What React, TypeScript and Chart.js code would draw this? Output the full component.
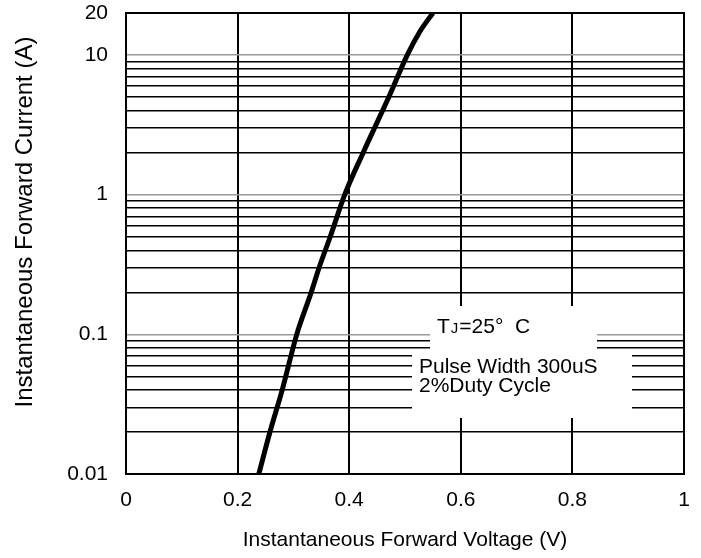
import { useEffect, useRef } from "react";
import { Chart, registerables } from "chart.js";

Chart.register(...registerables);

// Forward characteristic
const voltage = [0.238, 0.258, 0.28, 0.306, 0.332, 0.346, 0.366, 0.392, 0.425, 0.471, 0.504, 0.527, 0.55];
const current = [0.01, 0.02, 0.04, 0.1, 0.2, 0.3, 0.5, 1, 2, 5, 10, 14.8, 20];

const xTicks = [0, 0.2, 0.4, 0.6, 0.8, 1];
const yTickLabels = [0.01, 0.1, 1, 10, 20];
const yDecades = [0.01, 0.1, 1, 10];
const yMin = 0.01;
const yMax = 20;

const xTitle = "Instantaneous Forward Voltage (V)";
const yTitle = "Instantaneous Forward Current (A)";
const noteT = "T";
const noteJ = "J";
const noteTemp = "=25°  C";
const noteLines = ["Pulse Width 300uS", "2%Duty Cycle"];

const FONT = '"Liberation Sans", Arial, Helvetica, sans-serif';

function isDecade(v: number) {
  const l = Math.log10(v);
  return Math.abs(l - Math.round(l)) < 1e-6;
}

const overlay = {
  id: "overlay",
  beforeDatasetsDraw(chart: any) {
    const { ctx, chartArea: a } = chart;
    ctx.save();
    ctx.fillStyle = "#ffffff";
    ctx.fillRect(a.left + 304, a.top + 293, 167, 47);
    ctx.fillRect(a.left + 286, a.top + 339, 220, 66);
    ctx.fillStyle = "#000000";
    ctx.textBaseline = "alphabetic";
    ctx.textAlign = "left";
    ctx.font = `21px ${FONT}`;
    let x = a.left + 311;
    const y0 = a.top + 320;
    ctx.fillText(noteT, x, y0);
    x += ctx.measureText(noteT).width + 1;
    ctx.font = `15px ${FONT}`;
    ctx.fillText(noteJ, x, y0);
    x += ctx.measureText(noteJ).width + 1;
    ctx.font = `21px ${FONT}`;
    ctx.fillText(noteTemp, x, y0);
    ctx.fillText(noteLines[0], a.left + 293, a.top + 360);
    ctx.fillText(noteLines[1], a.left + 293, a.top + 379);
    ctx.restore();
  },
  afterDraw(chart: any) {
    const { ctx, chartArea: a } = chart;
    ctx.save();
    ctx.strokeStyle = "#000000";
    ctx.lineWidth = 2;
    ctx.strokeRect(a.left, a.top, a.right - a.left, a.bottom - a.top);
    ctx.translate(25, 222);
    ctx.rotate(-Math.PI / 2);
    ctx.fillStyle = "#000000";
    ctx.font = `24px ${FONT}`;
    ctx.textAlign = "center";
    ctx.textBaseline = "middle";
    ctx.fillText(yTitle, 0, 0);
    ctx.restore();
  },
};

export default function App() {
  const ref = useRef<HTMLCanvasElement | null>(null);

  useEffect(() => {
    if (!ref.current) return;
    const chart = new Chart(ref.current, {
      type: "line",
      data: {
        datasets: [
          {
            data: voltage.map((v, i) => ({ x: v, y: current[i] })),
            borderColor: "#000000",
            borderWidth: 5,
            pointRadius: 0,
            fill: false,
            cubicInterpolationMode: "monotone",
          },
        ],
      },
      options: {
        animation: false,
        responsive: false,
        maintainAspectRatio: false,
        layout: { padding: { top: 13, right: 17, left: 0, bottom: 0 } },
        plugins: { legend: { display: false }, tooltip: { enabled: false } },
        scales: {
          x: {
            type: "linear",
            min: 0,
            max: 1,
            afterBuildTicks: (s: any) => {
              s.ticks = xTicks.map((v) => ({ value: v }));
            },
            afterFit: (s: any) => {
              s.height = 84;
              s.paddingLeft = 0;
              s.paddingRight = 0;
            },
            ticks: {
              color: "#000000",
              font: { family: FONT, size: 21 },
              padding: 14,
              autoSkip: false,
              maxRotation: 0,
              callback: (v: any) => String(Number(v)),
            },
            grid: { color: "#000000", lineWidth: 2, drawTicks: false },
            border: { display: false },
            title: {
              display: true,
              text: xTitle,
              color: "#000000",
              font: { family: FONT, size: 21 },
              padding: { top: 0, bottom: 5 },
            },
          },
          y: {
            type: "logarithmic",
            min: yMin,
            max: yMax,
            afterBuildTicks: (s: any) => {
              const t: { value: number }[] = [];
              for (const d of yDecades) {
                for (let m = 1; m <= 9; m++) {
                  const v = parseFloat((d * m).toPrecision(6));
                  if (v < yMax) t.push({ value: v });
                }
              }
              t.push({ value: yMax });
              s.ticks = t;
            },
            afterFit: (s: any) => {
              s.width = 126;
              s.paddingTop = 0;
              s.paddingBottom = 0;
            },
            ticks: {
              color: "#000000",
              font: { family: FONT, size: 21 },
              padding: 18,
              autoSkip: false,
              callback: (v: any) => {
                const n = Number(v);
                return yTickLabels.some((l) => Math.abs(l - n) / l < 1e-6) ? String(n) : "";
              },
            },
            grid: {
              drawTicks: false,
              color: (c: any) => {
                const v = c.tick ? c.tick.value : 0;
                return isDecade(v) && v > yMin * 1.01 ? "#999999" : "#000000";
              },
              lineWidth: 1.5,
            },
            border: { display: false },
          },
        },
      },
      plugins: [overlay],
    } as any);
    return () => chart.destroy();
  }, []);

  return (
    <div style={{ position: "absolute", left: 0, top: 0, width: 701, height: 558, background: "#fff" }}>
      <canvas ref={ref} width={701} height={558} style={{ display: "block", width: 701, height: 558 }} />
    </div>
  );
}
